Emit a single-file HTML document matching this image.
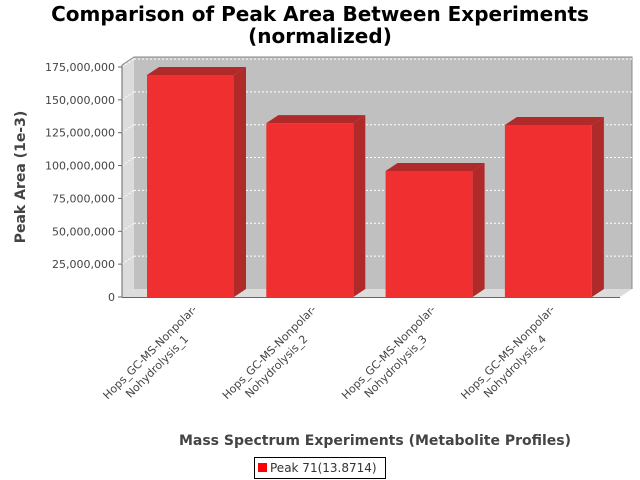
<!DOCTYPE html>
<html><head><meta charset="utf-8"><style>body{margin:0;background:#fff}svg{display:block;font-family:"DejaVu Sans","Liberation Sans",sans-serif}</style></head>
<body>
<svg id="chart" width="640" height="480" xmlns="http://www.w3.org/2000/svg">
<rect width="640" height="480" fill="#fff"/>
<text x="320" y="21" text-anchor="middle" font-size="20" font-weight="bold">Comparison of Peak Area Between Experiments</text>
<text x="320" y="43" text-anchor="middle" font-size="20" font-weight="bold">(normalized)</text>
<polygon points="122,65 134,57 134,289 122,297" fill="#dcdcdc"/>
<polygon points="122,297 134,289 632,289 620,297" fill="#dcdcdc"/>
<rect x="134" y="57" width="498" height="232" fill="#c0c0c0"/>
<polyline points="122,65 134,57 632,57 632,289" fill="none" stroke="#888" stroke-width="1"/>
<g id="grid"></g><g id="bars"></g><g id="yaxis"></g><g id="xaxis"></g>
<text transform="translate(25,177) rotate(-90)" text-anchor="middle" font-size="14" font-weight="bold" fill="#444">Peak Area (1e-3)</text>
<text x="375" y="445" text-anchor="middle" font-size="14" font-weight="bold" fill="#444">Mass Spectrum Experiments (Metabolite Profiles)</text>
<g>
<rect x="254.5" y="457.5" width="131" height="21" fill="#fff" stroke="#000"/>
<rect x="258" y="463" width="9" height="9" fill="#ff0000"/>
<text x="270" y="472" font-size="12" fill="#333">Peak 71(13.8714)</text>
</g>
</svg>
<script>
const categories=["Hops_GC-MS-Nonpolar-|Nohydrolysis_1","Hops_GC-MS-Nonpolar-|Nohydrolysis_2","Hops_GC-MS-Nonpolar-|Nohydrolysis_3","Hops_GC-MS-Nonpolar-|Nohydrolysis_4"];
const values=[168900000,132300000,95900000,130900000];
const ticks=[0,25000000,50000000,75000000,100000000,125000000,150000000,175000000];
const NS="http://www.w3.org/2000/svg";
function mk(t,a,p){const e=document.createElementNS(NS,t);for(const k in a)e.setAttribute(k,a[k]);p.appendChild(e);return e;}
const y0=297,pxPer=32.86/25000000,dx=12,dy=8;
function yS(v){return y0-v*pxPer;}
function xS(i){return 147+i*119.3;}
const bw=87;
const grid=document.getElementById('grid'),yax=document.getElementById('yaxis'),bars=document.getElementById('bars'),xax=document.getElementById('xaxis');
ticks.forEach(t=>{const y=yS(t);
if(t>0){const g=mk('line',{x1:122,y1:y,x2:134,y2:y-dy,stroke:'#fff','stroke-width':1,'stroke-dasharray':'2,2'},grid);
const g2=mk('line',{x1:134,y1:y-dy,x2:632,y2:y-dy,stroke:'#fff','stroke-width':1,'stroke-dasharray':'2,2'},grid);}
const tk=mk('line',{x1:118,y1:y,x2:122,y2:y,stroke:'#666'},yax);
const tx=mk('text',{x:115,y:y+4,'text-anchor':'end','font-size':11,fill:'#444'},yax);tx.textContent=t.toLocaleString('en-US');
});
mk('line',{x1:122,y1:65,x2:122,y2:297.5,stroke:'#666'},yax);
mk('line',{x1:122,y1:297.5,x2:620,y2:297.5,stroke:'#666'},yax);
values.forEach((v,i)=>{const x=xS(i),y=yS(v);
const g=mk('g',{},bars);
mk('polygon',{points:`${x+bw},${y} ${x+bw+dx},${y-dy} ${x+bw+dx},${y0-dy} ${x+bw},${y0}`,fill:'#b02a2a'},g);
mk('polygon',{points:`${x},${y} ${x+dx},${y-dy} ${x+bw+dx},${y-dy} ${x+bw},${y}`,fill:'#b02a2a'},g);
mk('rect',{x:x,y:y,width:bw,height:y0-y,fill:'#f03030'},g);
const lines=categories[i].split('|');const cx=x+bw/2+7;
const t=mk('text',{transform:`translate(${cx},310) rotate(-45)`,'text-anchor':'end','font-size':11,fill:'#444'},xax);

const s1=mk('tspan',{x:0,y:0},t);s1.textContent=lines[0];
const s2=mk('tspan',{x:-27,y:15},t);s2.textContent=lines[1];});
</script>
</body></html>
